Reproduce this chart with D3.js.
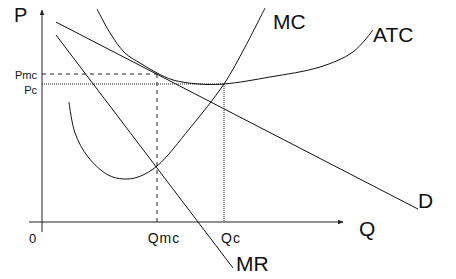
<!DOCTYPE html>
<html>
<head>
<meta charset="utf-8">
<script src="https://cdn.jsdelivr.net/npm/d3@7"></script>
<style>
  body { margin: 0; background: #fff; }
  text { font-family: "Liberation Sans", Arial, sans-serif; fill: #111; }
</style>
</head>
<body>
<svg id="chart"></svg>
<script>
// Curves in (quantity, price) units
const demand = [[5.6, 94.3], [150.4, 6.1]];
const marginalRevenue = [[5.6, 88.2], [76.4, -21.7]];
const marginalCost = [[10.8, 56.6], [13.2, 42.0], [18.4, 30.7], [26.4, 22.2], [32.4, 20.3],
                      [38.4, 21.2], [46, 26.4], [59.2, 44.3], [72.8, 65.1], [81.2, 82.5], [89.2, 100.9]];
const averageCost = [[22, 100.5], [27.2, 89.2], [33.2, 79.7], [39.2, 75], [46, 70.3], [52.4, 67],
                     [62.4, 65.1], [72.8, 65.1], [91.2, 68.4], [111.2, 73.1], [124.4, 80.2], [132.4, 90.6]];

// Key levels
const qLabels = ["Qmc", "Qc"];
const qValues = [46, 72.8];
const pLabels = ["Pmc", "Pc"];
const pValues = [69.8, 65.1];

const width = 456, height = 279;
const svg = d3.select("#chart").attr("width", width).attr("height", height);

// origin sits at (42, 222)
const x = d3.scaleLinear().domain([0, 150]).range([42, 417]);
const y = d3.scaleLinear().domain([0, 100]).range([222, 10]);

// arrow marker for axes
svg.append("defs").append("marker")
   .attr("id", "arrow")
   .attr("viewBox", "0 0 10 10")
   .attr("refX", 9).attr("refY", 5)
   .attr("markerWidth", 6).attr("markerHeight", 6)
   .attr("orient", "auto")
   .append("path").attr("d", "M0,1L10,5L0,9Z").attr("fill", "#222");

// axes
svg.append("line")
   .attr("x1", x(-5.2)).attr("x2", x(120.4))
   .attr("y1", y(0)).attr("y2", y(0))
   .attr("stroke", "#222").attr("marker-end", "url(#arrow)");
svg.append("line")
   .attr("x1", x(0)).attr("x2", x(0))
   .attr("y1", y(-4.7)).attr("y2", y(100))
   .attr("stroke", "#222").attr("marker-end", "url(#arrow)");

// guide lines: Pmc/Qmc dashed, Pc/Qc dotted
const guideDash = ["4,4", "1,1"];
qValues.forEach((q, i) => {
   svg.append("line")
      .attr("x1", x(q)).attr("x2", x(q))
      .attr("y1", y(pValues[i])).attr("y2", y(0))
      .attr("stroke", "#222").attr("stroke-dasharray", guideDash[i]);
   svg.append("line")
      .attr("x1", x(0)).attr("x2", x(q))
      .attr("y1", y(pValues[i])).attr("y2", y(pValues[i]))
      .attr("stroke", "#222").attr("stroke-dasharray", guideDash[i]);
});

const straight = d3.line().x(d => x(d[0])).y(d => y(d[1]));
const smooth = d3.line().x(d => x(d[0])).y(d => y(d[1])).curve(d3.curveCatmullRom);

[[demand, straight], [marginalRevenue, straight], [marginalCost, smooth], [averageCost, smooth]]
   .forEach(([pts, gen]) => {
      svg.append("path")
         .attr("d", gen(pts))
         .attr("fill", "none")
         .attr("stroke", "#111")
         .attr("stroke-width", 1);
   });

// axis labels
svg.append("text").attr("x", 14).attr("y", 22).attr("font-size", 20).text("P");
svg.append("text").attr("x", 359).attr("y", 236).attr("font-size", 21).text("Q");
svg.append("text").attr("x", 29).attr("y", 243).attr("font-size", 13).text("0");

// tick-style labels
svg.selectAll(".plab").data(pLabels).enter().append("text")
   .attr("x", x(0) - 5)
   .attr("y", (d, i) => y(pValues[i]) + [5, 10][i])
   .attr("text-anchor", "end")
   .attr("font-size", 11)
   .text(d => d);
svg.selectAll(".qlab").data(qLabels).enter().append("text")
   .attr("x", (d, i) => x(qValues[i]) + [7, 7][i])
   .attr("y", 243)
   .attr("text-anchor", "middle")
   .attr("font-size", 14)
   .attr("letter-spacing", 1)
   .text(d => d);

// curve labels
svg.append("text").attr("x", 273).attr("y", 29).attr("font-size", 21).text("MC");
svg.append("text").attr("x", 373).attr("y", 42).attr("font-size", 21).text("ATC");
svg.append("text").attr("x", 418).attr("y", 208).attr("font-size", 21).text("D");
svg.append("text").attr("x", 236).attr("y", 271).attr("font-size", 21).text("MR");
</script>
</body>
</html>
